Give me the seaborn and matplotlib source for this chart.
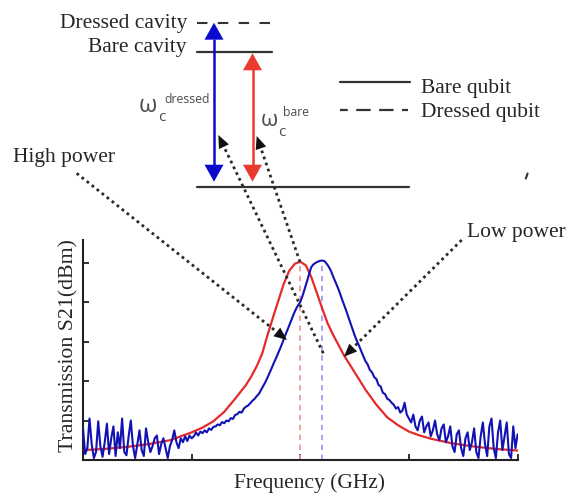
import numpy as np
import pandas as pd
import matplotlib
matplotlib.use("Agg")
import matplotlib.pyplot as plt
import seaborn as sns
from matplotlib.patches import Polygon

# ---------------- data ----------------
red_x = [0.0, 0.2, 0.4, 0.6, 0.8, 1.0, 1.1, 1.2, 1.3, 1.4, 1.5, 1.55, 1.6, 1.65, 1.7,
         1.75, 1.8, 1.85, 1.9, 1.95, 2.0, 2.05, 2.1, 2.15, 2.2, 2.25, 2.3, 2.35, 2.4,
         2.5, 2.6, 2.7, 2.8, 2.9, 3.0, 3.1, 3.2, 3.4, 3.6, 3.8, 4.0]
red_y = [0.25, 0.28, 0.33, 0.40, 0.50, 0.70, 0.82, 0.98, 1.22, 1.55, 1.90, 2.12, 2.38,
         2.70, 3.18, 3.62, 4.05, 4.48, 4.80, 4.97, 5.02, 4.93, 4.64, 4.25, 3.85, 3.47,
         3.18, 2.92, 2.66, 2.22, 1.78, 1.40, 1.08, 0.88, 0.72, 0.62, 0.54, 0.42, 0.34,
         0.28, 0.24]

blue_y = [0.80, 0.15, 0.30, 1.05, 0.40, 0.05, 0.20, 0.98, 0.35, 0.08,
          0.45, 0.92, 0.15, 0.55, 0.85, 0.10, 0.70, 0.30, 1.05, 0.20,
          0.12, 0.60, 1.00, 0.35, 0.05, 0.40, 0.75, 0.25, 0.10, 0.80,
          0.45, 0.20, 0.35, 0.55, 0.62, 0.15, 0.40, 0.55, 0.30, 0.05,
          0.35,
          0.50, 0.75, 0.45, 0.30, 0.55, 0.45, 0.60, 0.48, 0.62, 0.55,
          0.60, 0.70, 0.62, 0.72, 0.68, 0.75, 0.70, 0.80, 0.76, 0.84,
          0.85, 0.90, 0.88, 0.96, 0.93, 1.00, 0.98, 1.06, 1.04, 1.14,
          1.16, 1.22, 1.20, 1.30, 1.35, 1.38, 1.44, 1.50, 1.55, 1.62,
          1.68, 1.78, 1.88, 1.98, 2.10, 2.22, 2.35, 2.48, 2.60, 2.73,
          2.86, 3.00, 3.15, 3.28, 3.42, 3.56, 3.70, 3.82, 3.92, 4.00,
          4.15, 4.33, 4.51, 4.70, 4.88, 4.95, 4.99, 5.02, 5.04, 5.05,
          5.04, 4.98, 4.90, 4.80, 4.66, 4.53, 4.40, 4.26, 4.10, 3.95,
          3.80, 3.64, 3.48, 3.32, 3.16, 3.02, 2.90, 2.76, 2.63, 2.50,
          2.42, 2.28, 2.22, 2.10, 2.05, 1.90, 1.86, 1.70, 1.67, 1.55,
          1.52, 1.45, 1.40, 1.30, 1.34, 1.20, 1.25, 1.45, 1.15, 1.05,
          0.95, 1.15, 0.85, 0.75, 1.00, 1.10, 0.70, 0.85, 0.95, 0.60,
          0.75, 1.00, 0.65, 0.50, 0.80, 0.90, 0.45, 0.60, 0.85, 0.35,
          0.20, 0.65, 0.75, 0.30, 0.10, 0.55, 0.70, 0.25, 0.45, 0.80,
          0.20, 0.05, 0.60, 0.95, 0.40, 0.10, 0.85, 1.05, 0.30, 0.05,
          0.70, 1.00, 0.25, 0.60, 0.95, 0.15, 0.05, 0.85, 0.30, 0.65]
blue_x_range = [0.0, 4.0]

x_ticks = [0, 1, 2, 3, 4]
y_ticks = [0, 1, 2, 3, 4, 5]
x_label = "Frequency (GHz)"
y_label = "Transmission S21(dBm)"

level_labels = ["Dressed cavity", "Bare cavity"]
legend_labels = ["Bare qubit", "Dressed qubit"]
power_labels = ["High power", "Low power"]

# ---------------- styling ----------------
sns.set_style("ticks")
plt.rcParams['font.family'] = ['Liberation Serif', 'DejaVu Sans']

W, H = 566, 495
fig = plt.figure(figsize=(W / 100, H / 100), dpi=100)
ax = fig.add_axes([83 / W, 35 / H, 434.6 / W, 220 / H])

blue_x = np.linspace(blue_x_range[0], blue_x_range[1], len(blue_y))
df_red = pd.DataFrame({"f": red_x, "s": red_y})
df_blue = pd.DataFrame({"f": blue_x, "s": blue_y})

sns.lineplot(data=df_red, x="f", y="s", ax=ax, color="#e62a2a", lw=1.6,
             estimator=None, sort=False, zorder=2)
sns.lineplot(data=df_blue, x="f", y="s", ax=ax, color="#1212b4", lw=1.5,
             estimator=None, sort=False, zorder=3)

ri = int(np.argmax(red_y))
bi = int(np.argmax(blue_y))
ax.vlines(red_x[ri], 0, red_y[ri] - 0.1, colors="#f29a9a", lw=1.3,
          linestyles=(0, (3, 2.5)), zorder=1)
ax.vlines(blue_x[bi], 0, blue_y[bi] - 0.1, colors="#a0a0ec", lw=1.3,
          linestyles=(0, (3, 2.5)), zorder=1)

ax.set_xlim(0, 4)
ax.set_ylim(0, 5.57)
ax.set_xticks(x_ticks)
ax.set_yticks(y_ticks)
ax.set_xticklabels([])
ax.set_yticklabels([])
ax.set_xlabel("")
ax.set_ylabel("")
for s in ["top", "right"]:
    ax.spines[s].set_visible(False)
for s in ["left", "bottom"]:
    ax.spines[s].set_linewidth(1.5)
    ax.spines[s].set_color("#222222")
ax.tick_params(direction="in", length=4, width=1.3, color="#222222")

# ---------------- overlay for annotations (pixel coordinates) ----------------
ov = fig.add_axes([0, 0, 1, 1])
ov.set_xlim(0, W)
ov.set_ylim(H, 0)
ov.axis("off")
ov.set_zorder(5)

FS = 15.5
ink = "#333333"

def head(tip, frm, length, width, color):
    tip = np.asarray(tip, float)
    d = tip - np.asarray(frm, float)
    d /= np.hypot(*d)
    n = np.array([-d[1], d[0]])
    base = tip - d * length
    ov.add_patch(Polygon([tip, base + n * width / 2, base - n * width / 2],
                         closed=True, facecolor=color, edgecolor="none", zorder=6))
    return base

def double_arrow(x, top, bottom, color):
    hl, hw = 17, 19
    ov.plot([x, x], [top + hl - 1, bottom - hl + 1], color=color, lw=1.8,
            solid_capstyle="butt")
    head((x, top), (x, bottom), hl, hw, color)
    head((x, bottom), (x, top), hl, hw, color)

def dotted_arrow(frm, tip, hl=13, hw=11):
    base = head(tip, frm, hl, hw, "#111111")
    ov.plot([frm[0], base[0]], [frm[1], base[1]], color="#2a2a2a", lw=2.0,
            linestyle=(0, (1.0, 1.3)))

# energy levels
ov.plot([197, 272], [22.7, 22.7], color=ink, lw=1.5, linestyle=(0, (5, 5)))
ov.plot([197, 272], [52.3, 52.3], color=ink, lw=1.6)
ov.plot([197, 409], [187.3, 187.3], color=ink, lw=1.6)
ov.text(187, 28.3, level_labels[0], ha="right", va="baseline", fontsize=FS)
ov.text(187, 51.7, level_labels[1], ha="right", va="baseline", fontsize=FS)

# coloured transition arrows
double_arrow(214, 22.7, 181.7, "#0a0acc")
double_arrow(252.5, 53.3, 181.7, "#ea3a30")

# omega labels
gray = "#4d4d4d"
sans = ["Open Sans", "DejaVu Sans"]
ov.text(139, 112, "ω", family=sans, fontsize=17, color=gray, ha="left", va="baseline")
ov.text(158, 121, "c", family=sans, fontsize=11, color=gray, ha="left", va="baseline")
ov.text(164, 102.7, "dressed", family=sans, fontsize=8.8, color=gray, ha="left", va="baseline")
ov.text(260.5, 126, "ω", family=sans, fontsize=16, color=gray, ha="left", va="baseline")
ov.text(278, 135.5, "c", family=sans, fontsize=11, color=gray, ha="left", va="baseline")
ov.text(283.5, 116, "bare", family=sans, fontsize=8.8, color=gray, ha="left", va="baseline")

# legend
ov.plot([340, 410], [81.7, 81.7], color=ink, lw=1.6)
ov.plot([340, 408], [110, 110], color=ink, lw=1.6, linestyle=(3, (6.5, 3.8)))
ov.text(420.7, 92.5, legend_labels[0], ha="left", va="baseline", fontsize=FS)
ov.text(420.7, 116.7, legend_labels[1], ha="left", va="baseline", fontsize=FS)

# power labels and dotted arrows
ov.text(13.3, 161.7, power_labels[0], ha="left", va="baseline", fontsize=FS)
ov.text(466.7, 236.7, power_labels[1], ha="left", va="baseline", fontsize=FS)
dotted_arrow((76.7, 173.3), (287, 340))
dotted_arrow((461.7, 240), (344, 356.7))
dotted_arrow((323.3, 353.3), (218.3, 135))
dotted_arrow((300, 262), (256.7, 136))
ov.plot([525.8, 527.6], [178.5, 173.5], color=ink, lw=1.5)

# axis labels
ov.text(310, 488, x_label, ha="center", va="baseline", fontsize=FS)
ov.text(73.5, 346, y_label, rotation=90, rotation_mode="anchor",
        ha="center", va="baseline", fontsize=15.7)

fig.savefig("out.png", dpi=100)
